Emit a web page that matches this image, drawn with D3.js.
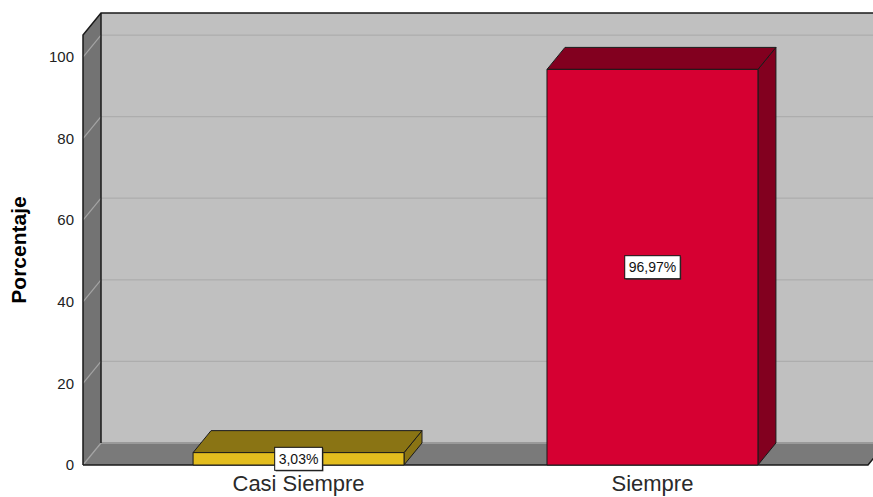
<!DOCTYPE html>
<html>
<head>
<meta charset="utf-8">
<script src="https://cdn.jsdelivr.net/npm/d3@7"></script>
<style>
  html, body { margin: 0; padding: 0; background: #ffffff; }
  svg { display: block; font-family: "Liberation Sans", Arial, sans-serif; }
</style>
</head>
<body>
<svg id="chart" width="873" height="497"></svg>
<script>
// Response categories and their percentages
const categories = ["Casi Siempre", "Siempre"];
const percentages = [3.03, 96.97];
const valueLabels = ["3,03%", "96,97%"];
const tickValues = [0, 20, 40, 60, 80, 100];
const axisTitle = "Porcentaje";

// Face colours per bar: front, top/side
const frontColors = ["#e3bd1e", "#d60032"];
const shadeColors = ["#8a7414", "#82001f"];

const W = 873, H = 497;
const svg = d3.select("#chart");

// Depth offset of the 3D box
const dx = 18, dy = -22;

// Front plane geometry
const x0 = 83, x1 = 868;
const y = d3.scaleLinear().domain([0, 105.4]).range([465, 35]);
const x = d3.scaleBand().domain(categories).range([x0, x1])
  .paddingInner(0.404).paddingOuter(0.311);

const pt = (a) => a.map(p => p.join(",")).join(" ");

// Back wall
svg.append("rect")
  .attr("x", x0 + dx).attr("y", y(105.4) + dy)
  .attr("width", W + 40 - (x0 + dx)).attr("height", y(0) - y(105.4))
  .attr("fill", "#c0c0c0");

// Left wall
svg.append("polygon")
  .attr("points", pt([[x0, y(0)], [x0, y(105.4)], [x0 + dx, y(105.4) + dy], [x0 + dx, y(0) + dy]]))
  .attr("fill", "#737373");

// Floor
svg.append("polygon")
  .attr("points", pt([[x0, y(0)], [x0 + dx, y(0) + dy], [x1 + dx, y(0) + dy], [x1, y(0)]]))
  .attr("fill", "#7a7a7a");

// Gridlines on back and left walls
const grid = svg.append("g");
tickValues.forEach(t => {
  grid.append("line")
    .attr("x1", x0 + dx).attr("x2", W + 40)
    .attr("y1", y(t) + dy).attr("y2", y(t) + dy)
    .attr("stroke", t === 0 ? "#9a9a9a" : "#adadad").attr("stroke-width", t === 0 ? 2 : 1.2);
  grid.append("line")
    .attr("x1", x0).attr("y1", y(t))
    .attr("x2", x0 + dx).attr("y2", y(t) + dy)
    .attr("stroke", "#a4a4a4").attr("stroke-width", 1.2);
});

// Wall outlines
const edge = svg.append("g").attr("stroke", "#1a1a1a").attr("stroke-width", 1.5).attr("fill", "none");
edge.append("polyline")
  .attr("points", pt([[x0, y(0)], [x0, y(105.4)], [x0 + dx, y(105.4) + dy], [W + 40, y(105.4) + dy]]));
edge.append("line")
  .attr("x1", x0 + dx).attr("y1", y(105.4) + dy).attr("x2", x0 + dx).attr("y2", y(0) + dy);
edge.append("polyline")
  .attr("points", pt([[x0, y(0)], [x1, y(0)], [x1 + dx, y(0) + dy]]));

// Y tick labels
svg.append("g").selectAll("text").data(tickValues).join("text")
  .attr("x", 74).attr("y", d => y(d)).attr("dy", "0.35em")
  .attr("text-anchor", "end").attr("font-size", 15).attr("fill", "#222")
  .text(d => d);

// Axis title
svg.append("text")
  .attr("transform", `translate(26, 250) rotate(-90)`)
  .attr("text-anchor", "middle").attr("font-size", 21).attr("font-weight", "bold")
  .attr("fill", "#000").text(axisTitle);

// 3D bars
const bars = svg.append("g").attr("stroke", "#1a1a1a").attr("stroke-width", 1).attr("stroke-linejoin", "round");
categories.forEach((c, i) => {
  const l = x(c), r = x(c) + x.bandwidth();
  const top = y(percentages[i]), bot = y(0);
  // right side
  bars.append("polygon")
    .attr("points", pt([[r, bot], [r, top], [r + dx, top + dy], [r + dx, bot + dy]]))
    .attr("fill", shadeColors[i]);
  // top
  bars.append("polygon")
    .attr("points", pt([[l, top], [l + dx, top + dy], [r + dx, top + dy], [r, top]]))
    .attr("fill", shadeColors[i]);
  // front
  bars.append("rect")
    .attr("x", l).attr("y", top).attr("width", r - l).attr("height", bot - top)
    .attr("fill", frontColors[i]);
});

// Value labels in boxes
categories.forEach((c, i) => {
  const cx = x(c) + x.bandwidth() / 2;
  const cy = (y(percentages[i]) + y(0)) / 2;
  const g = svg.append("g");
  const t = g.append("text")
    .attr("x", cx).attr("y", cy).attr("dy", "0.36em")
    .attr("text-anchor", "middle").attr("font-size", 14).attr("fill", "#111")
    .text(valueLabels[i]);
  const bb = t.node().getBBox();
  const bw = bb.width + 8, bh = 23;
  g.insert("rect", "text")
    .attr("x", cx - bw / 2 + 1).attr("y", cy - bh / 2 + 1).attr("width", bw).attr("height", bh)
    .attr("fill", "#333");
  g.insert("rect", "text")
    .attr("x", cx - bw / 2).attr("y", cy - bh / 2).attr("width", bw).attr("height", bh)
    .attr("fill", "#fff").attr("stroke", "#111").attr("stroke-width", 1);
});

// Category labels
svg.append("g").selectAll("text").data(categories).join("text")
  .attr("x", d => x(d) + x.bandwidth() / 2).attr("y", 491)
  .attr("text-anchor", "middle").attr("font-size", 22).attr("fill", "#2a2a2a")
  .text(d => d);
</script>
</body>
</html>
